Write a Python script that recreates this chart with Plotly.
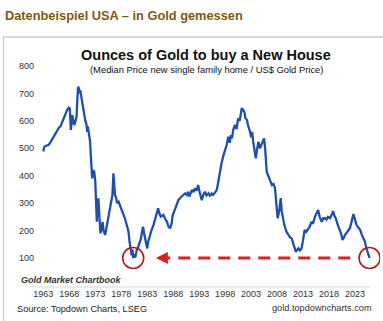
import plotly.graph_objects as go

# Ounces of gold needed to buy a median new single-family home (US)
years = [
    1963.0, 1963.2, 1963.6, 1964.0, 1964.3, 1964.6, 1965.0, 1965.3, 1965.7, 1966.0,
    1966.3, 1966.6, 1967.0, 1967.3, 1967.6, 1967.9, 1968.1, 1968.3, 1968.45, 1968.6,
    1968.8, 1969.0, 1969.2, 1969.4, 1969.55, 1969.7, 1969.85, 1970.0, 1970.1, 1970.3,
    1970.5, 1970.7, 1970.9, 1971.1, 1971.3, 1971.45, 1971.55, 1971.7, 1971.85, 1972.0,
    1972.2, 1972.4, 1972.6, 1972.8, 1973.0, 1973.15, 1973.3, 1973.45, 1973.6, 1973.8,
    1974.0, 1974.2, 1974.4, 1974.6, 1974.9, 1975.2, 1975.5, 1975.8, 1976.1, 1976.3,
    1976.5, 1976.65, 1976.8, 1977.0, 1977.2, 1977.5, 1977.8, 1978.1, 1978.4, 1978.7,
    1979.0, 1979.4, 1979.6, 1979.8, 1980.0, 1980.15, 1980.3, 1980.5, 1980.7, 1981.0,
    1981.3, 1981.6, 1981.8, 1982.0, 1982.2, 1982.4, 1982.6, 1982.8, 1983.0, 1983.2,
    1983.5, 1983.8, 1984.2, 1984.5, 1984.8, 1985.1, 1985.35, 1985.6, 1985.9, 1986.1,
    1986.4, 1986.8, 1987.1, 1987.4, 1987.7, 1987.9, 1988.2, 1988.4, 1988.7, 1989.0,
    1989.3, 1989.6, 1990.0, 1990.3, 1990.6, 1990.9, 1991.1, 1991.3, 1991.6, 1991.9,
    1992.2, 1992.5, 1992.8, 1993.1, 1993.5, 1993.8, 1994.1, 1994.4, 1994.8, 1995.1,
    1995.4, 1995.7, 1996.0, 1996.4, 1996.7, 1997.0, 1997.3, 1997.7, 1998.0, 1998.3,
    1998.6, 1998.9, 1999.1, 1999.3, 1999.6, 1999.9, 2000.2, 2000.5, 2000.8, 2001.0,
    2001.2, 2001.45, 2001.7, 2001.9, 2002.2, 2002.4, 2002.6, 2002.8, 2003.0, 2003.2,
    2003.4, 2003.65, 2003.9, 2004.1, 2004.4, 2004.7, 2005.0, 2005.2, 2005.5, 2005.7,
    2006.0, 2006.3, 2006.5, 2006.8, 2007.0, 2007.3, 2007.6, 2007.85, 2008.1, 2008.4,
    2008.7, 2008.9, 2009.1, 2009.4, 2009.8, 2010.2, 2010.5, 2010.8, 2011.0, 2011.3,
    2011.6, 2011.9, 2012.1, 2012.4, 2012.7, 2013.0, 2013.3, 2013.6, 2014.0, 2014.3,
    2014.6, 2014.9, 2015.3, 2015.6, 2015.9, 2016.2, 2016.6, 2016.9, 2017.2, 2017.5,
    2017.8, 2018.2, 2018.5, 2018.8, 2019.0, 2019.3, 2019.6, 2020.0, 2020.3, 2020.6,
    2020.9, 2021.1, 2021.5, 2021.8, 2022.0, 2022.3, 2022.7, 2023.0, 2023.3, 2023.7,
    2024.0, 2024.3, 2024.6, 2024.9, 2025.2, 2025.5, 2025.8,
]
ounces = [
    488, 506, 510, 512, 520, 530, 545, 555, 565, 575,
    580, 595, 612, 625, 640, 648, 645, 567, 600, 621,
    595, 585, 600, 615, 680, 725, 718, 700, 712, 690,
    660, 633, 618, 600, 588, 560, 580, 567, 545, 524,
    450, 390, 420, 415, 380, 320, 232, 290, 318, 250,
    190, 205, 232, 200, 184, 215, 245, 270, 300, 330,
    409, 360, 330, 320, 300, 305, 290, 281, 265, 245,
    225, 196, 160, 123, 110, 132, 100, 108, 103, 130,
    141, 160, 172, 195, 214, 190, 172, 160, 135, 160,
    184, 200, 220, 240, 257, 281, 262, 251, 255, 257,
    245, 232, 215, 208, 225, 257, 270, 281, 295, 311,
    318, 324, 330, 336, 330, 342, 324, 335, 348, 340,
    354, 345, 366, 340, 311, 330, 342, 328, 336, 325,
    335, 330, 340, 348, 380, 415, 445, 476, 495, 512,
    542, 520, 548, 536, 570, 585, 570, 609, 600, 630,
    646, 640, 633, 610, 603, 585, 575, 560, 540, 560,
    524, 500, 463, 490, 524, 500, 512, 525, 536, 500,
    415, 400, 390, 375, 366, 370, 354, 300, 245, 270,
    318, 270, 245, 220, 196, 185, 175, 172, 160, 140,
    123, 130, 135, 128, 135, 165, 202, 195, 208, 215,
    232, 225, 251, 262, 275, 250, 232, 245, 245, 240,
    250, 245, 260, 271, 255, 245, 225, 208, 190, 166,
    180, 184, 195, 205, 208, 230, 260, 240, 220, 210,
    202, 185, 170, 160, 135, 118, 100,
]

tick_years = [1963, 1968, 1973, 1978, 1983, 1988, 1993, 1998, 2003, 2008, 2013, 2018, 2023]
tick_values = [100, 200, 300, 400, 500, 600, 700, 800]

W, H = 383, 321
ML, MR, MT, MB = 35, 3, 62, 34
X_RANGE = [1961.40, 2027.81]
Y_RANGE = [-5.7, 814.6]
plot_w = W - ML - MR
plot_h = H - MT - MB
px_per_year = plot_w / (X_RANGE[1] - X_RANGE[0])
px_per_unit = plot_h / (Y_RANGE[1] - Y_RANGE[0])


def paper_x(px):
    return (px - ML) / plot_w


def paper_y(py):
    return (H - MB - py) / plot_h


FONT = "Liberation Sans, Arial, sans-serif"
BLUE = "#1f4fae"
RED = "#d8231f"
CIRCLE_RED = "#b01c1c"

# the 1979-81 trough and the latest reading
window = [i for i, y in enumerate(years) if 1978 <= y <= 1984]
low_i = min(window, key=lambda i: ounces[i])
low_x, low_y = years[low_i], ounces[low_i]
last_x, last_y = years[-1], ounces[-1]

circle_r = 10.5
rx = circle_r / px_per_year
ry = circle_r / px_per_unit

arrow_tip = low_x + 22.7 / px_per_year
arrow_neck = arrow_tip + 10 / px_per_year
arrow_tail = last_x - 19.3 / px_per_year

fig = go.Figure()

fig.add_trace(go.Scatter(
    x=[arrow_tail, arrow_neck], y=[last_y, last_y], mode="lines",
    line=dict(color=RED, width=3, dash="12px,8px"), hoverinfo="skip", showlegend=False,
))
fig.add_trace(go.Scatter(
    x=years, y=ounces, mode="lines",
    line=dict(color=BLUE, width=2.3), showlegend=False,
))

shapes = [
    dict(type="circle", xref="x", yref="y",
         x0=low_x - rx, x1=low_x + rx, y0=low_y - ry, y1=low_y + ry,
         line=dict(color=CIRCLE_RED, width=1.6)),
    dict(type="circle", xref="x", yref="y",
         x0=last_x - rx, x1=last_x + rx, y0=last_y - ry, y1=last_y + ry,
         line=dict(color=CIRCLE_RED, width=1.6)),
    # x axis baseline
    dict(type="line", xref="paper", yref="paper",
         x0=paper_x(31), x1=paper_x(370), y0=0, y1=0,
         line=dict(color="#d6d6d6", width=1)),
    # panel frame
    dict(type="line", xref="paper", yref="paper",
         x0=paper_x(3), x1=paper_x(383), y0=paper_y(37), y1=paper_y(37),
         line=dict(color="#d8d8d8", width=2)),
    dict(type="line", xref="paper", yref="paper",
         x0=paper_x(3.5), x1=paper_x(3.5), y0=paper_y(37), y1=paper_y(321),
         line=dict(color="#c4c4c4", width=1)),
]

annotations = [
    dict(x=arrow_tip, y=last_y, ax=arrow_neck, ay=last_y, xref="x", yref="y",
         axref="x", ayref="y", text="", showarrow=True, arrowhead=2,
         arrowsize=0.8, arrowwidth=3, arrowcolor=RED, standoff=0, startstandoff=0),
    dict(x=paper_x(3), y=paper_y(15), xref="paper", yref="paper",
         xanchor="left", yanchor="middle", showarrow=False,
         text="<b>Datenbeispiel USA – in Gold gemessen</b>",
         font=dict(family=FONT, size=12.8, color="#7d5a12")),
    dict(x=paper_x(206), y=paper_y(55), xref="paper", yref="paper",
         xanchor="center", yanchor="middle", showarrow=False,
         text="<b>Ounces of Gold to buy a New House</b>",
         font=dict(family=FONT, size=14.5, color="#111111")),
    dict(x=paper_x(206), y=paper_y(69), xref="paper", yref="paper",
         xanchor="center", yanchor="middle", showarrow=False,
         text="(Median Price new single family home / US$ Gold Price)",
         font=dict(family=FONT, size=9.4, color="#111111")),
    dict(x=paper_x(71), y=paper_y(280), xref="paper", yref="paper",
         xanchor="center", yanchor="middle", showarrow=False,
         text="<b><i>Gold Market Chartbook</i></b>",
         font=dict(family=FONT, size=9, color="#333333")),
    dict(x=paper_x(15), y=paper_y(309), xref="paper", yref="paper",
         xanchor="left", yanchor="middle", showarrow=False,
         text="Source: Topdown Charts, LSEG",
         font=dict(family=FONT, size=9.2, color="#222222")),
    dict(x=paper_x(373.5), y=paper_y(308), xref="paper", yref="paper",
         xanchor="right", yanchor="middle", showarrow=False,
         text="gold.topdowncharts.com",
         font=dict(family=FONT, size=9.2, color="#333333")),
]

fig.update_layout(
    width=W, height=H,
    margin=dict(l=ML, r=MR, t=MT, b=MB, pad=0),
    paper_bgcolor="white", plot_bgcolor="white",
    showlegend=False,
    font=dict(family=FONT, size=9, color="#333333"),
    xaxis=dict(range=X_RANGE, tickvals=tick_years, ticktext=[str(t) for t in tick_years],
               showgrid=False, zeroline=False, showline=False, ticks="",
               tickfont=dict(size=9, color="#333333"), fixedrange=True),
    yaxis=dict(range=Y_RANGE, tickvals=tick_values, showgrid=False, zeroline=False,
               showline=False, ticks="", tickfont=dict(size=9, color="#333333"),
               fixedrange=True),
    shapes=shapes,
    annotations=annotations,
)

fig.write_html("out.html", config={"displayModeBar": False})
